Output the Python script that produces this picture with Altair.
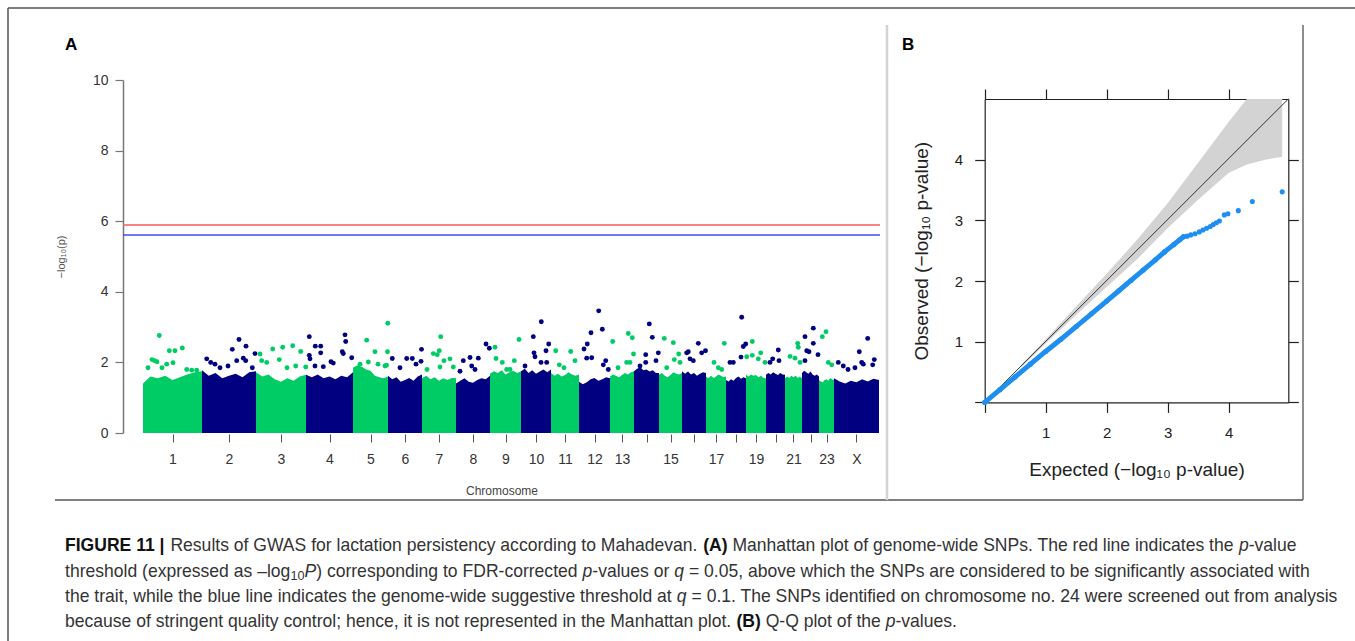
import altair as alt
import pandas as pd

# ---------------- Panel A: Manhattan plot data ----------------
chrom_names = ["1", "2", "3", "4", "5", "6", "7", "8", "9", "10", "11", "12",
               "13", "14", "15", "16", "17", "18", "19", "20", "21", "22", "23", "X"]
chrom_tick_labels = ["1", "2", "3", "4", "5", "6", "7", "8", "9", "10", "11", "12",
                     "13", "", "15", "", "17", "", "19", "", "21", "", "23", "X"]
# relative chromosome extents on the genome axis (SNP index units)
chrom_sizes = [59, 54, 50, 47, 35, 34, 34, 34, 31, 30, 28, 31,
               24, 25, 23, 24, 20, 20, 20, 19, 17, 17, 15, 45]

# upper edge of the dense SNP cloud, sampled across each chromosome
envelope_fracs = [0.0, 0.125, 0.25, 0.375, 0.5, 0.625, 0.75, 0.875, 1.0]
envelope_tops = [
    [1.40, 1.60, 1.55, 1.62, 1.50, 1.58, 1.66, 1.72, 1.75],
    [1.78, 1.62, 1.70, 1.55, 1.62, 1.68, 1.58, 1.72, 1.75],
    [1.72, 1.60, 1.66, 1.52, 1.45, 1.55, 1.48, 1.60, 1.65],
    [1.65, 1.58, 1.66, 1.55, 1.60, 1.52, 1.62, 1.58, 1.72],
    [1.85, 1.92, 1.88, 1.80, 1.76, 1.62, 1.58, 1.55, 1.60],
    [1.62, 1.52, 1.58, 1.45, 1.50, 1.56, 1.48, 1.60, 1.66],
    [1.55, 1.62, 1.52, 1.58, 1.48, 1.55, 1.50, 1.56, 1.55],
    [1.40, 1.48, 1.55, 1.45, 1.42, 1.50, 1.55, 1.52, 1.62],
    [1.68, 1.75, 1.70, 1.78, 1.66, 1.72, 1.76, 1.70, 1.75],
    [1.75, 1.82, 1.70, 1.78, 1.68, 1.74, 1.80, 1.72, 1.80],
    [1.70, 1.62, 1.68, 1.60, 1.64, 1.72, 1.66, 1.62, 1.66],
    [1.45, 1.38, 1.44, 1.52, 1.56, 1.48, 1.52, 1.58, 1.55],
    [1.60, 1.66, 1.62, 1.58, 1.64, 1.70, 1.66, 1.72, 1.75],
    [1.75, 1.82, 1.86, 1.78, 1.80, 1.74, 1.78, 1.70, 1.70],
    [1.65, 1.70, 1.62, 1.58, 1.64, 1.72, 1.68, 1.66, 1.70],
    [1.75, 1.68, 1.74, 1.66, 1.70, 1.62, 1.68, 1.72, 1.70],
    [1.60, 1.55, 1.62, 1.56, 1.60, 1.66, 1.62, 1.58, 1.60],
    [1.50, 1.46, 1.52, 1.48, 1.56, 1.60, 1.54, 1.58, 1.55],
    [1.65, 1.60, 1.66, 1.62, 1.64, 1.58, 1.62, 1.56, 1.55],
    [1.65, 1.70, 1.66, 1.72, 1.68, 1.64, 1.70, 1.66, 1.65],
    [1.55, 1.60, 1.56, 1.62, 1.58, 1.62, 1.56, 1.60, 1.55],
    [1.70, 1.76, 1.72, 1.68, 1.74, 1.66, 1.62, 1.66, 1.60],
    [1.50, 1.46, 1.44, 1.50, 1.52, 1.48, 1.56, 1.52, 1.50],
    [1.55, 1.46, 1.40, 1.48, 1.44, 1.52, 1.46, 1.54, 1.50],
]

# individual SNPs standing out above the dense cloud
snp_chrom = (["1"] * 14 + ["2"] * 13 + ["3"] * 11 + ["4"] * 15 + ["5"] * 9 + ["6"] * 7 +
             ["7"] * 9 + ["8"] * 8 + ["9"] * 7 + ["10"] * 9 + ["11"] * 5 + ["12"] * 10 +
             ["13"] * 7 + ["14"] * 7 + ["15"] * 6 + ["16"] * 7 + ["17"] * 4 + ["18"] * 6 +
             ["19"] * 6 + ["20"] * 4 + ["21"] * 5 + ["22"] * 7 + ["23"] * 4 + ["X"] * 10)
snp_pos = [16.3, 9, 11.5, 14, 26.3, 32, 39.3, 30, 23.7, 43.7, 48.7, 53.7, 5, 19,
           96, 89.3, 103, 63.7, 67.7, 72, 93.7, 100.3, 102.7, 112, 109.3, 77, 85,
           117, 129.7, 139.7, 149.7, 157.7, 118.7, 123.7, 136.3, 152.7, 162.7, 144,
           166.3, 172.3, 177.7, 166.3, 167, 177.7, 202, 202.7, 199.3, 200.3, 208.7, 188, 190.3, 172, 180.3,
           223.7, 232, 225.3, 244.8, 244.5, 242, 243.5, 217, 235,
           249.3, 263.7, 269.3, 278.5, 273, 278, 257,
           297.7, 296.3, 290.3, 294.3, 301, 307, 297, 310.3, 284,
           320.3, 327, 335.3, 343, 346.3, 328.7, 332, 317,
           352, 353, 359.3, 371.3, 376, 363.7, 367,
           390.3, 398.3, 391, 392, 403, 405.7, 398, 403.7, 382,
           412.7, 427.7, 416.3, 432, 421,
           455.7, 459.3, 448, 444.3, 441, 448.7, 443.7, 462.7, 460.3, 465.3,
           469.7, 485.3, 489.3, 490.5, 483.7, 487, 475,
           506.3, 509.3, 502.7, 515.3, 502.7, 513, 497,
           521.3, 530.3, 535.7, 523.7, 531.3, 537,
           555.3, 543.7, 545.3, 558.7, 562.5, 547, 550.3,
           581.3, 571, 575.3, 578.7,
           598.7, 600.3, 602.7, 598, 587, 590.3,
           609.3, 603.7, 609.3, 617.7, 615.3, 622,
           635.3, 636, 629.7, 627,
           654.7, 647, 652, 655.3, 657,
           670.3, 662, 670.3, 663.7, 666, 675, 662,
           683, 679.3, 685.3, 688.7,
           724.7, 716.3, 695.3, 700.3, 718.7, 720.3, 731.3, 729.7, 712, 705]
snp_logp = [2.76, 2.08, 2.05, 2.02, 2.33, 2.33, 2.41, 1.99, 1.95, 1.80, 1.78, 1.78, 1.85, 1.85,
            2.65, 2.37, 2.46, 2.10, 2.00, 1.95, 2.05, 2.12, 2.05, 2.25, 1.85, 1.85, 1.90,
            2.24, 2.38, 2.43, 2.47, 2.31, 2.05, 2.00, 2.08, 1.90, 1.87, 1.85,
            2.73, 2.46, 2.46, 2.20, 2.10, 2.27, 2.78, 2.59, 2.30, 2.25, 2.13, 2.02, 1.98, 1.90, 1.88,
            2.63, 2.30, 2.01, 3.11, 2.30, 1.90, 1.92, 1.95, 1.95,
            2.11, 2.11, 2.11, 2.37, 1.95, 2.03, 1.85,
            2.73, 2.33, 2.25, 2.22, 2.05, 2.10, 1.87, 1.87, 1.80,
            2.05, 2.14, 2.12, 2.52, 2.40, 1.90, 1.80, 1.75,
            2.43, 2.11, 2.00, 2.05, 2.65, 1.80, 1.80,
            2.73, 3.15, 2.27, 2.16, 2.33, 2.52, 2.00, 2.00, 1.90,
            2.33, 2.31, 1.93, 2.05, 1.85,
            3.46, 2.94, 2.84, 2.52, 2.38, 2.13, 2.12, 2.05, 1.93, 1.80,
            2.59, 2.82, 2.70, 2.24, 2.00, 2.00, 1.85,
            3.09, 2.71, 2.22, 2.27, 2.00, 2.05, 1.90,
            2.68, 2.56, 2.24, 1.85, 2.08, 2.00,
            2.54, 2.27, 2.30, 2.27, 2.33, 2.10, 2.05,
            2.54, 2.00, 1.85, 1.80,
            3.28, 2.45, 2.52, 2.15, 2.00, 2.00,
            2.59, 2.16, 2.20, 2.27, 2.10, 2.00,
            2.35, 2.05, 2.10, 2.00,
            2.54, 2.17, 2.12, 2.43, 2.00,
            2.97, 2.73, 2.54, 2.33, 2.30, 2.22, 2.05,
            2.87, 2.73, 2.00, 1.93,
            2.68, 2.30, 2.00, 1.90, 2.00, 1.95, 2.08, 1.93, 1.85, 1.80]

threshold_names = ["q = 0.05", "q = 0.1"]
threshold_values = [5.89, 5.61]

# ---------------- Panel B: Q-Q plot data ----------------
qq_expected = [0.0, 0.25, 0.5, 0.75, 1.0, 1.25, 1.5, 1.75, 2.0, 2.2, 2.4, 2.6, 2.8, 2.95,
               3.1, 3.2, 3.26, 3.32, 3.38, 3.45, 3.52, 3.58, 3.64, 3.7, 3.75, 3.8, 3.85,
               3.93, 3.99, 4.16, 4.39, 4.88]
qq_observed = [0.0, 0.21, 0.42, 0.63, 0.84, 1.04, 1.25, 1.46, 1.67, 1.84, 2.01, 2.18, 2.35, 2.48,
               2.6, 2.68, 2.73, 2.74, 2.76, 2.78, 2.81, 2.84, 2.87, 2.9, 2.93, 2.96, 2.99,
               3.09, 3.11, 3.16, 3.31, 3.47]
qq_dense_count = 17  # leading points drawn as a continuous band of SNPs

band_expected = [0.6, 1.0, 1.5, 2.0, 2.5, 3.0, 3.5, 4.0, 4.3, 4.6, 4.88]
band_upper = [0.62, 1.04, 1.58, 2.12, 2.68, 3.28, 3.95, 4.62, 5.05, 5.4, 5.7]
band_lower = [0.58, 0.97, 1.44, 1.90, 2.36, 2.87, 3.34, 3.78, 3.92, 4.0, 4.05]
diag_values = [0.0, 5.0]

# ---------------- Caption (segments of each line, flowed left to right) ----------------
caption_lines = [
    [("FIGURE 11 | ", "bold"), ("Results of GWAS for lactation persistency according to Mahadevan. ", "normal"),
     ("(A)", "bold"), (" Manhattan plot of genome-wide SNPs. The red line indicates the ", "normal"),
     ("p", "italic"), ("-value", "normal")],
    [("threshold (expressed as \u2013log", "normal"), ("10", "sub"), ("P", "italic"),
     (") corresponding to FDR-corrected ", "normal"), ("p", "italic"), ("-values or ", "normal"),
     ("q", "italic"),
     (" = 0.05, above which the SNPs are considered to be significantly associated with", "normal")],
    [("the trait, while the blue line indicates the genome-wide suggestive threshold at ", "normal"),
     ("q", "italic"),
     (" = 0.1. The SNPs identified on chromosome no. 24 were screened out from analysis", "normal")],
    [("because of stringent quality control; hence, it is not represented in the Manhattan plot. ", "normal"),
     ("(B)", "bold"), (" Q-Q plot of the ", "normal"), ("p", "italic"), ("-values.", "normal")],
]
caption_line_y = [546, 572, 597, 622]
caption_left, caption_right_line3 = 65, 1338

panel_letters = ["A", "B"]
panel_letter_x = [65, 902]
panel_letter_y = [45, 45]

# ---------------- text metrics (Liberation Sans = Arial metrics, 1/1000 em) ----------------
W_REG = {}
for chars, w in [("'", 191), ("ijl", 222), ("|", 260), (" !,./:;I[]\\ft", 278), ("()-r`", 333),
                 ('"', 355), ("*", 389), ("^", 469), ("cksvxyzJ", 500),
                 ("abdeghnopqu0123456789#$?_L\u2013", 556), ("+<=>~\u2212", 584), ("FTZ", 611),
                 ("ABEKPSVXY&", 667), ("CDHNRUw", 722), ("GOQ", 778), ("Mm", 833), ("%", 889),
                 ("W", 944), ("@", 1015)]:
    for ch in chars:
        W_REG[ch] = w
W_BOLD = dict(W_REG)
for chars, w in [("|", 280), ("ABRU", 722), ("(", 333), (")", 333)]:
    for ch in chars:
        W_BOLD[ch] = w

SUB_SCALE = 0.72


def seg_width(text, style, size):
    tab = W_BOLD if style == "bold" else W_REG
    s = size * (SUB_SCALE if style == "sub" else 1.0)
    return sum(tab.get(ch, 556) for ch in text) * s / 1000.0


line3_units = sum(seg_width(t, st, 1.0) for t, st in caption_lines[2])
CAP_SIZE = (caption_right_line3 - caption_left) / line3_units

cap_rows = []
for li, segs in enumerate(caption_lines):
    x = caption_left
    for text, style in segs:
        lead = len(text) - len(text.lstrip(" "))
        body = text.strip(" ")
        x_body = x + seg_width(" " * lead, "normal", CAP_SIZE)
        cap_rows.append({"txt": body, "style": style, "px": x_body,
                         "py": caption_line_y[li] + (4 if style == "sub" else 0)})
        x += seg_width(text, style, CAP_SIZE)
cap_df = pd.DataFrame(cap_rows)

# ---------------- build tables ----------------
starts = []
acc = 0
for s in chrom_sizes:
    starts.append(acc)
    acc += s
genome_len = acc
centers = [st + s / 2 for st, s in zip(starts, chrom_sizes)]
parity = {c: ("odd" if i % 2 == 0 else "even") for i, c in enumerate(chrom_names)}

mass_rows = []
for i, c in enumerate(chrom_names):
    for f, t in zip(envelope_fracs, envelope_tops[i]):
        mass_rows.append({"chrom": c, "pos": starts[i] + f * chrom_sizes[i], "val": t,
                          "base": 0.0, "grp": parity[c]})
mass_df = pd.DataFrame(mass_rows)
snp_df = pd.DataFrame({"chrom": snp_chrom, "pos": snp_pos, "val": snp_logp})
snp_df["grp"] = snp_df["chrom"].map(parity)
thr_df = pd.DataFrame({"name": threshold_names, "val": threshold_values,
                       "pos": [-20] * 2, "pos2": [genome_len + 1] * 2})

qq_df = pd.DataFrame({"x": qq_expected, "y": qq_observed})
qq_dense_df = qq_df.iloc[:qq_dense_count]
band_df = pd.DataFrame({"x": band_expected, "lo": band_lower, "hi": band_upper})
diag_df = pd.DataFrame({"x": diag_values, "y": diag_values})
letters_df = pd.DataFrame({"txt": panel_letters, "px": panel_letter_x, "py": panel_letter_y})

FONT = "Liberation Sans"
GREEN, NAVY = "#00cc66", "#000080"

# ---------------- Panel A ----------------
xM = alt.Scale(domain=[-20, genome_len + 1], range=[123, 880], nice=False, zero=False)
yM = alt.Scale(domain=[0, 10], range=[433, 80], nice=False, zero=False)
colM = alt.Scale(domain=["odd", "even"], range=[GREEN, NAVY])

label_expr = " : ".join(f"datum.value == {c} ? '{l}'" for c, l in zip(centers, chrom_tick_labels)) + " : ''"
axis_mx = alt.Axis(orient="bottom", offset=-207, values=centers, labelExpr=label_expr,
                   domain=False, tickSize=8, tickColor="#555", tickWidth=1,
                   labelFont=FONT, labelFontSize=14, labelColor="#333", labelPadding=10,
                   labelOverlap=False, labelFlush=False, labelBound=False, grid=False,
                   title="Chromosome", titleFont=FONT, titleFontSize=12, titleFontWeight="normal",
                   titleColor="#444", titlePadding=19)
axis_my = alt.Axis(orient="left", offset=-123, values=[0, 2, 4, 6, 8, 10],
                   domainColor="#777", domainWidth=1.5, tickColor="#777", tickSize=8, tickWidth=1.2,
                   labelFont=FONT, labelFontSize=14, labelColor="#333", labelPadding=7, grid=False,
                   title="\u2212log\u2081\u2080(p)", titleFont=FONT, titleFontSize=11,
                   titleFontWeight="normal", titleColor="#555", titlePadding=26)

mx = alt.X("pos:Q", scale=xM, axis=axis_mx)
my = alt.Y("val:Q", scale=yM, axis=axis_my)

mass = alt.Chart(mass_df).mark_area(interpolate="linear", opacity=1).encode(
    x=mx, y=my, y2="base:Q", detail="chrom:N",
    color=alt.Color("grp:N", scale=colM, legend=None))
snps = alt.Chart(snp_df).mark_circle(size=24, opacity=1).encode(
    x=mx, y=my, color=alt.Color("grp:N", scale=colM, legend=None))
red_rule = alt.Chart(thr_df.iloc[[0]]).mark_rule(color="#f25c5c", strokeWidth=1.5).encode(
    x=mx, x2="pos2:Q", y=my)
blue_rule = alt.Chart(thr_df.iloc[[1]]).mark_rule(color="#4a4ae0", strokeWidth=1.5).encode(
    x=mx, x2="pos2:Q", y=my)
manhattan = alt.layer(mass, snps, red_rule, blue_rule)

# ---------------- Panel B ----------------
xQ = alt.Scale(domain=[0, 4.98], range=[984.7, 1288.3], nice=False, zero=False, clamp=True)
yQ = alt.Scale(domain=[0, 5.0], range=[402.4, 99], nice=False, zero=False, clamp=True)
common = dict(values=[0, 1, 2, 3, 4], tickSize=10, tickColor="#222", tickWidth=1.2,
              domainColor="#222", domainWidth=1.2, grid=False)
ax_bottom = alt.Axis(orient="bottom", offset=-238.6, labelExpr="datum.value == 0 ? '' : datum.label",
                     labelFont=FONT, labelFontSize=15, labelColor="#222", labelPadding=13,
                     title="Expected (\u2212log\u2081\u2080 p-value)", titleFont=FONT, titleFontSize=19,
                     titleFontWeight="normal", titleColor="#222", titlePadding=20, **common)
ax_left = alt.Axis(orient="left", offset=-984.7, labelExpr="datum.value == 0 ? '' : datum.label",
                   labelFont=FONT, labelFontSize=15, labelColor="#222", labelPadding=12,
                   title="Observed (\u2212log\u2081\u2080 p-value)", titleFont=FONT, titleFontSize=19,
                   titleFontWeight="normal", titleColor="#222", titlePadding=23, **common)
ax_top = alt.Axis(orient="top", offset=-99, labels=False, title="", **common)
ax_right = alt.Axis(orient="right", offset=-66.7, labels=False, title="", **common)

band = alt.Chart(band_df).mark_area(color="#d3d3d3", opacity=1).encode(
    x=alt.X("x:Q", scale=xQ, axis=ax_bottom),
    y=alt.Y("lo:Q", scale=yQ, axis=ax_left), y2="hi:Q")
diag = alt.Chart(diag_df).mark_line(color="#333", strokeWidth=1).encode(
    x=alt.X("x:Q", scale=xQ, axis=ax_top),
    y=alt.Y("y:Q", scale=yQ, axis=ax_right))
BLUE = "#1f8ef1"
qq_line = alt.Chart(qq_dense_df).mark_line(color=BLUE, strokeWidth=5, strokeCap="round").encode(
    x=alt.X("x:Q", scale=xQ, axis=None), y=alt.Y("y:Q", scale=yQ, axis=None))
qq_pts = alt.Chart(qq_df).mark_circle(color=BLUE, size=26, opacity=1).encode(
    x=alt.X("x:Q", scale=xQ, axis=None), y=alt.Y("y:Q", scale=yQ, axis=None))
qq = alt.layer(band, diag, qq_line, qq_pts).resolve_axis(x="independent", y="independent")

# ---------------- frame, letters, caption ----------------
one = pd.DataFrame({"k": [0]})
frame = [
    alt.Chart(one).mark_rule(color="#555", strokeWidth=1.5).encode(
        x=alt.value(8), x2=alt.value(1355), y=alt.value(8)),
    alt.Chart(one).mark_rule(color="#555", strokeWidth=1.5).encode(
        x=alt.value(8), y=alt.value(8), y2=alt.value(641)),
    alt.Chart(one).mark_rule(color="#555", strokeWidth=1.5).encode(
        x=alt.value(55), x2=alt.value(1303), y=alt.value(500)),
    alt.Chart(one).mark_rule(color="#d4d4d4", strokeWidth=2.5).encode(
        x=alt.value(887), y=alt.value(25), y2=alt.value(500)),
    alt.Chart(one).mark_rule(color="#444", strokeWidth=1.2).encode(
        x=alt.value(1303), y=alt.value(25), y2=alt.value(500)),
]
letters = alt.Chart(letters_df).mark_text(font=FONT, fontSize=17, fontWeight="bold", color="#000",
                                          align="left", baseline="middle").encode(
    x=alt.X("px:Q", scale=None, axis=None), y=alt.Y("py:Q", scale=None, axis=None), text="txt:N")


def cap_layer(style, size, **kw):
    return alt.Chart(cap_df[cap_df["style"] == style]).mark_text(
        font=FONT, fontSize=size, align="left", baseline="middle", **kw).encode(
        x=alt.X("px:Q", scale=None, axis=None), y=alt.Y("py:Q", scale=None, axis=None), text="txt:N")


caption = [cap_layer("normal", CAP_SIZE, color="#333"),
           cap_layer("bold", CAP_SIZE, color="#111", fontWeight="bold"),
           cap_layer("italic", CAP_SIZE, color="#333", fontStyle="italic"),
           cap_layer("sub", CAP_SIZE * SUB_SCALE, color="#333")]

chart = alt.layer(manhattan, qq, *frame, letters, *caption).resolve_scale(
    x="independent", y="independent"
).properties(
    width=1355, height=641, padding=0, autosize=alt.AutoSizeParams(type="none"),
    background="white"
).configure_view(stroke=None)

chart.save("out.html", embed_options={"renderer": "svg", "actions": False})
